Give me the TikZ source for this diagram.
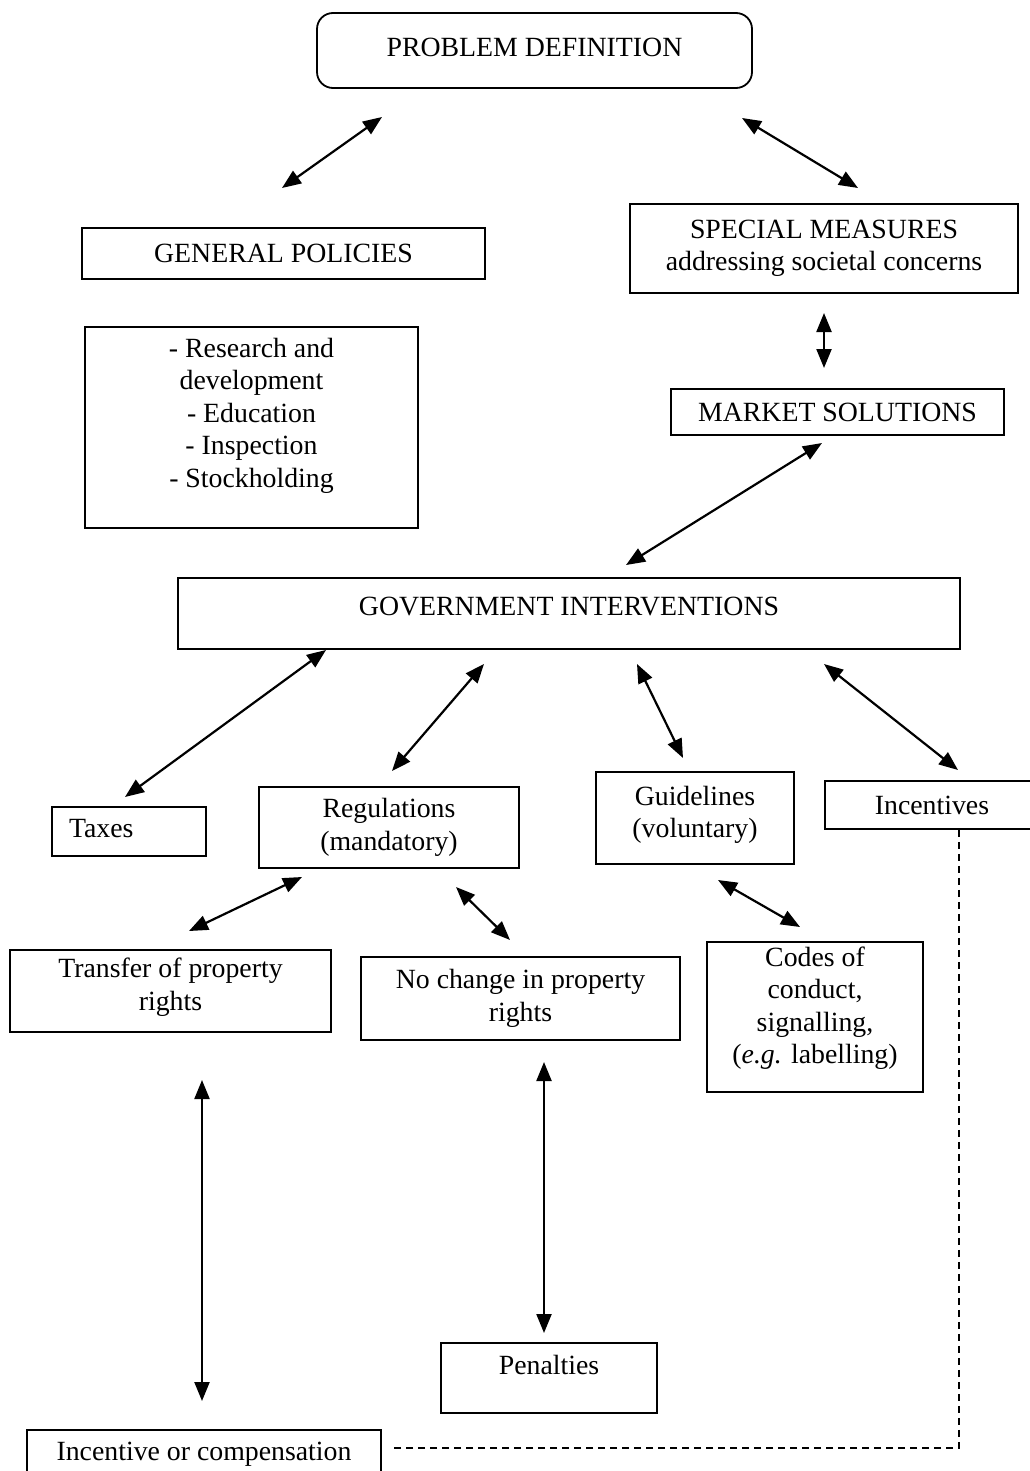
\documentclass[tikz,border=0pt]{standalone}
\usepackage{fontspec}
\setmainfont{Liberation Serif}
\usetikzlibrary{arrows.meta}
\newcommand{\dfont}{\fontsize{27.8pt}{32.5pt}\selectfont}
\begin{document}
\begin{tikzpicture}[x=1pt,y=-1pt,
  box/.style={draw, line width=1.8pt, inner sep=0pt, align=center, font=\dfont},
  arr/.style={line width=2.2pt, {Triangle[length=19pt,width=15pt]}-{Triangle[length=19pt,width=15pt]}},
  dashline/.style={line width=1.5pt, dash pattern=on 7pt off 5pt}]
\useasboundingbox (0,0) rectangle (1029,1471);
\fill[white] (0,0) rectangle (1029,1471);

% boxes
\node[box, rounded corners=16pt, minimum width=435pt, minimum height=75pt, text depth=7pt] (pd) at (534.5,50.5) {PROBLEM DEFINITION};
\node[box, minimum width=403pt, minimum height=51pt] (gp) at (283.5,253.5) {GENERAL POLICIES};
\node[box, minimum width=333pt, minimum height=201pt, text depth=30pt] (rd) at (251.5,427.5) {- Research and\\development\\- Education\\- Inspection\\- Stockholding};
\node[box, minimum width=388pt, minimum height=89pt] (sm) at (824,248.5) {SPECIAL MEASURES\\addressing societal concerns};
\node[box, minimum width=333pt, minimum height=46pt] (ms) at (837.5,412) {MARKET SOLUTIONS};
\node[box, minimum width=782pt, minimum height=71pt, text depth=15pt] (gi) at (569,613.5) {GOVERNMENT INTERVENTIONS};
\node[box, minimum width=154pt, minimum height=49pt, inner xsep=17pt, text width=120pt, align=left, text depth=7pt] (tax) at (129,831.5) {Taxes};
\node[box, minimum width=260pt, minimum height=81pt] (reg) at (389,827.5) {Regulations\\(mandatory)};
\node[box, minimum width=198pt, minimum height=92pt, text depth=12pt] (gui) at (695,818) {Guidelines\\(voluntary)};
\node[box, minimum width=214pt, minimum height=48pt] (inc) at (932,805) {Incentives};
\node[box, minimum width=321pt, minimum height=82pt, text depth=14pt] (tr) at (170.5,991) {Transfer of property\\rights};
\node[box, minimum width=319pt, minimum height=83pt] (nc) at (520.5,998.5) {No change in property\\rights};
\node[box, minimum width=216pt, minimum height=150pt, text depth=24pt] (cod) at (815,1017) {Codes of\\conduct,\\signalling,\\(\textit{e.g.} labelling)};
\node[box, minimum width=216pt, minimum height=70pt, text depth=26pt] (pen) at (549,1378) {Penalties};
\node[box, minimum width=354pt, minimum height=48pt] (ic) at (204,1454) {Incentive or compensation};

% arrow end points
\coordinate (a1s) at (282,188);  \coordinate (a1e) at (382,117);
\coordinate (a2s) at (742,118);  \coordinate (a2e) at (858,188);
\coordinate (a3s) at (824,313);  \coordinate (a3e) at (824,368);
\coordinate (a4s) at (822,443);  \coordinate (a4e) at (626,565);
\coordinate (a5s) at (326,650);  \coordinate (a5e) at (125,797);
\coordinate (a6s) at (484,664);  \coordinate (a6e) at (392,771);
\coordinate (a7s) at (637,664);  \coordinate (a7e) at (683,758);
\coordinate (a8s) at (824,664);  \coordinate (a8e) at (958,770);
\coordinate (a9s) at (302,877);  \coordinate (a9e) at (189,931);
\coordinate (a10s) at (456,887); \coordinate (a10e) at (510,940);
\coordinate (a11s) at (718,880); \coordinate (a11e) at (800,927);
\coordinate (a12s) at (202,1080); \coordinate (a12e) at (202,1401);
\coordinate (a13s) at (544,1062); \coordinate (a13e) at (544,1333);

\draw[arr] (a1s) -- (a1e);
\draw[arr] (a2s) -- (a2e);
\draw[arr] (a3s) -- (a3e);
\draw[arr] (a4s) -- (a4e);
\draw[arr] (a5s) -- (a5e);
\draw[arr] (a6s) -- (a6e);
\draw[arr] (a7s) -- (a7e);
\draw[arr] (a8s) -- (a8e);
\draw[arr] (a9s) -- (a9e);
\draw[arr] (a10s) -- (a10e);
\draw[arr] (a11s) -- (a11e);
\draw[arr] (a12s) -- (a12e);
\draw[arr] (a13s) -- (a13e);

% dashed connector
\coordinate (dc) at (959,1448);
\draw[dashline] (inc.south -| dc) -- (dc) -- ([xshift=11pt]ic.east |- dc);
\end{tikzpicture}
\end{document}
